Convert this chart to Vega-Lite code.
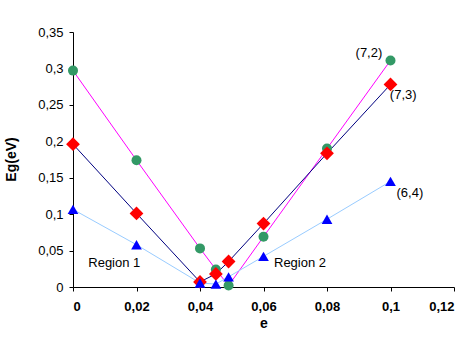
{
  "$schema": "https://vega.github.io/schema/vega-lite/v6.json",
  "width": 381,
  "height": 255,
  "autosize": "none",
  "padding": {"left": 73, "top": 32, "right": 16, "bottom": 51},
  "background": "white",
  "config": {
    "view": {"stroke": null},
    "font": "Liberation Sans",
    "axis": {"grid": false, "domainColor": "#000", "tickColor": "#000", "labelColor": "#000", "titleColor": "#000", "labelFontSize": 13, "titleFontSize": 14, "titleFontWeight": "bold", "tickSize": 4, "domainWidth": 1, "tickWidth": 1, "labelOverlap": false}
  },
  "datasets": {
    "pts": [
      {"series": "(7,2)", "e": 0, "Eg": 0.297},
      {"series": "(7,2)", "e": 0.02, "Eg": 0.174},
      {"series": "(7,2)", "e": 0.04, "Eg": 0.053},
      {"series": "(7,2)", "e": 0.045, "Eg": 0.024},
      {"series": "(7,2)", "e": 0.049, "Eg": 0.002},
      {"series": "(7,2)", "e": 0.06, "Eg": 0.069},
      {"series": "(7,2)", "e": 0.08, "Eg": 0.19},
      {"series": "(7,2)", "e": 0.1, "Eg": 0.311},
      {"series": "(7,3)", "e": 0, "Eg": 0.196},
      {"series": "(7,3)", "e": 0.02, "Eg": 0.101},
      {"series": "(7,3)", "e": 0.04, "Eg": 0.007},
      {"series": "(7,3)", "e": 0.045, "Eg": 0.018},
      {"series": "(7,3)", "e": 0.049, "Eg": 0.035},
      {"series": "(7,3)", "e": 0.06, "Eg": 0.087},
      {"series": "(7,3)", "e": 0.08, "Eg": 0.1835},
      {"series": "(7,3)", "e": 0.1, "Eg": 0.278},
      {"series": "(6,4)", "e": 0, "Eg": 0.1065},
      {"series": "(6,4)", "e": 0.02, "Eg": 0.058},
      {"series": "(6,4)", "e": 0.04, "Eg": 0.0055},
      {"series": "(6,4)", "e": 0.045, "Eg": 0.004},
      {"series": "(6,4)", "e": 0.049, "Eg": 0.014},
      {"series": "(6,4)", "e": 0.06, "Eg": 0.042},
      {"series": "(6,4)", "e": 0.08, "Eg": 0.093},
      {"series": "(6,4)", "e": 0.1, "Eg": 0.145}
    ],
    "labels": [
      {"text": "Region 1", "e": 0.013, "Eg": 0.033},
      {"text": "Region 2", "e": 0.0715, "Eg": 0.033},
      {"text": "(7,2)", "e": 0.0932, "Eg": 0.3216},
      {"text": "(7,3)", "e": 0.104, "Eg": 0.2638},
      {"text": "(6,4)", "e": 0.1061, "Eg": 0.129}
    ]
  },
  "encoding": {
    "x": {"field": "e", "type": "quantitative", "scale": {"domain": [0, 0.12], "nice": false}, "axis": {"values": [0, 0.02, 0.04, 0.06, 0.08, 0.1, 0.12], "labelExpr": "replace(format(datum.value, '.2~f'), '.', ',')", "labelFontWeight": "bold", "labelPadding": 9, "title": "e", "titlePadding": 3}},
    "y": {"field": "Eg", "type": "quantitative", "scale": {"domain": [0, 0.35], "nice": false}, "axis": {"values": [0, 0.05, 0.1, 0.15, 0.2, 0.25, 0.3, 0.35], "labelExpr": "replace(format(datum.value, '.2~f'), '.', ',')", "labelPadding": 6, "title": "Eg(eV)", "titleX": -55, "titleY": 127}}
  },
  "layer": [
    {
      "data": {"name": "pts"},
      "mark": {"type": "line", "strokeWidth": 1},
      "encoding": {
        "stroke": {"field": "series", "type": "nominal", "scale": {"domain": ["(7,2)", "(7,3)", "(6,4)"], "range": ["#FF00FF", "#000080", "#99CCFF"]}, "legend": null},
        "order": {"field": "e"}
      }
    },
    {
      "data": {"name": "pts"},
      "mark": {"type": "point", "filled": true, "opacity": 1, "strokeWidth": 0},
      "encoding": {
        "fill": {"field": "series", "type": "nominal", "scale": {"domain": ["(7,2)", "(7,3)", "(6,4)"], "range": ["#339966", "#FF0000", "#0000FF"]}, "legend": null},
        "shape": {"field": "series", "type": "nominal", "scale": {"domain": ["(7,2)", "(7,3)", "(6,4)"], "range": ["circle", "diamond", "triangle-up"]}, "legend": null},
        "size": {"field": "series", "type": "nominal", "scale": {"type": "ordinal", "domain": ["(7,2)", "(7,3)", "(6,4)"], "range": [100, 190, 115]}, "legend": null}
      }
    },
    {
      "data": {"name": "labels"},
      "mark": {"type": "text", "fontSize": 13, "color": "#000", "align": "center", "baseline": "middle"},
      "encoding": {
        "text": {"field": "text"}
      }
    }
  ]
}
